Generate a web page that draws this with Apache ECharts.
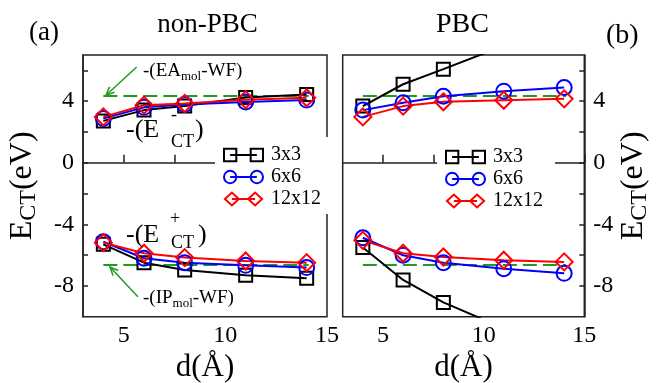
<!DOCTYPE html>
<html><head><meta charset="utf-8">
<script src="https://cdn.jsdelivr.net/npm/echarts@6/dist/echarts.min.js"></script>
<style>html,body{margin:0;padding:0;background:#fff}#c{width:658px;height:383px}</style>
</head><body><div id="c"></div>
<script>
// ---------- data ----------
const dVals = [4, 6, 8, 11, 14];
// non-PBC, -(E-_CT) branch
const npMinus3 = [2.72, 3.42, 3.68, 4.24, 4.43];
const npMinus6 = [2.88, 3.6, 3.78, 3.95, 4.07];
const npMinus12 = [2.98, 3.74, 3.85, 4.1, 4.22];
// non-PBC, -(E+_CT) branch
const npPlus3 = [-5.3, -6.49, -6.96, -7.3, -7.5];
const npPlus6 = [-5.13, -6.2, -6.49, -6.66, -6.81];
const npPlus12 = [-5.19, -5.88, -6.16, -6.38, -6.49];
// PBC
const pbcD3 = [4, 6, 8, 11];
const pbcMinus3 = [3.68, 5.1, 6.08, 7.6];
const pbcMinus6 = [3.42, 3.9, 4.32, 4.65, 4.89];
const pbcMinus12 = [2.98, 3.68, 3.96, 4.06, 4.15];
const pbcPlus3 = [-5.51, -7.61, -9.07, -10.75];
const pbcPlus6 = [-4.87, -6.01, -6.49, -6.88, -7.18];
const pbcPlus12 = [-5.04, -5.88, -6.12, -6.33, -6.44];
// reference levels (green dashed)
const refEA = 4.34;
const refIP = -6.64;
const refRange = [4, 14.1];
// annotation arrows (data coords, left panel): [from, to]
const arrowEA = [[5.64, 6.22], [4.13, 4.39]];
const arrowIP = [[5.7, -8.71], [4.33, -6.77]];
// ticks
const xLabelVals = [5, 10, 15];
const xTickVals = [5, 7.5, 10, 12.5, 15];
const yLabelVals = [-8, -4, 0, 4];
const yTickVals = [-8, -6, -4, -2, 0, 2, 4, 6];
const sizeNames = ['3x3', '6x6', '12x12'];

const FF = "'Liberation Serif', 'Times New Roman', Times, 'DejaVu Serif', serif";
const colors = {'3x3': '#000000', '6x6': '#0000ff', '12x12': '#ff0000'};
const symbols = {'3x3': 'rect', '6x6': 'circle', '12x12': 'diamond'};
const symSizes = {'3x3': 13, '6x6': 15, '12x12': 17};
const legendIcons = {
  '3x3': 'path://M1,1h12v12h-12z M7,7h26 M27,1h12v12h-12z',
  '6x6': 'path://M1,7a6,6 0 1,0 12,0a6,6 0 1,0 -12,0z M7,7h26 M27,7a6,6 0 1,0 12,0a6,6 0 1,0 -12,0z',
  '12x12': 'path://M0,7L7.5,0L15,7L7.5,14z M7.5,7h25 M25,7L32.5,0L40,7L32.5,14z'
};
const green = '#229922';

function zip(xs, ys) { return ys.map((y, i) => [xs[i], y]); }

function dataSeries(name, xs, ys, gi) {
  const c = colors[name];
  return {
    type: 'line', name: name, xAxisIndex: gi, yAxisIndex: gi,
    data: zip(xs, ys), symbol: symbols[name], symbolSize: symSizes[name],
    itemStyle: {color: 'transparent', borderColor: c, borderWidth: 2},
    lineStyle: {color: c, width: 2}, z: 3, clip: true,
    emphasis: {disabled: true}, animation: false
  };
}
function refSeries(val, gi) {
  return {
    type: 'line', xAxisIndex: gi, yAxisIndex: gi, data: [[refRange[0], val], [refRange[1], val]],
    symbol: 'none', lineStyle: {color: green, width: 2, type: [14, 6]}, z: 2,
    emphasis: {disabled: true}, silent: true, animation: false
  };
}

function xAxisCfg(gi) {
  return {
    type: 'value', gridIndex: gi, min: 3, max: 15,
    name: 'd(Å)', nameLocation: 'middle', nameGap: 33,
    nameTextStyle: {fontFamily: FF, fontSize: 31, color: '#000'},
    axisLine: {show: true, lineStyle: {color: '#222', width: 1.5}},
    axisTick: {show: true, inside: true, length: 8, customValues: xTickVals, lineStyle: {color: '#222', width: 1.5}},
    axisLabel: {customValues: xLabelVals, fontFamily: FF, fontSize: 24, color: '#000', margin: 7},
    splitLine: {show: false}
  };
}
const yName = '{a|E}{s|CT}{a|(eV)}';
const yRich = {
  a: {fontFamily: FF, fontSize: 32, lineHeight: 36, color: '#000'},
  s: {fontFamily: FF, fontSize: 24, lineHeight: 22, verticalAlign: 'bottom', color: '#000'}
};
function yAxisCfg(gi, pos, gap) {
  return {
    type: 'value', gridIndex: gi, min: -10, max: 7, position: pos,
    name: yName, nameLocation: 'middle', nameGap: gap,
    nameTextStyle: {fontFamily: FF, rich: yRich},
    axisLine: {show: true, lineStyle: {color: '#222', width: 1.5}},
    axisTick: {show: true, inside: true, length: 5, customValues: yTickVals, lineStyle: {color: '#222', width: 1.5}},
    axisLabel: {customValues: yLabelVals, fontFamily: FF, fontSize: 24, color: '#000', margin: 9},
    splitLine: {show: false}
  };
}

function legendCfg(left, top) {
  return {
    orient: 'vertical', left: left, top: top, padding: [8, 12, 5, 8],
    backgroundColor: '#fff', itemWidth: 39, itemHeight: 13, itemGap: 2,
    textStyle: {fontFamily: FF, fontSize: 20, color: '#000', padding: [0, 0, 0, 3]},
    selectedMode: false,
    data: sizeNames.map(n => ({
      name: n, icon: legendIcons[n],
      itemStyle: {color: 'transparent', borderColor: colors[n], borderWidth: 2}
    }))
  };
}

const chart = echarts.init(document.getElementById('c'), null, {renderer: 'canvas'});
const option = {
  animation: false,
  backgroundColor: '#fff',
  textStyle: {fontFamily: FF},
  grid: [
    {left: 83, top: 55, width: 244, bottom: 66.3, containLabel: false, outerBoundsMode: 'none', show: true, borderColor: '#222', borderWidth: 1.5, backgroundColor: 'transparent'},
    {left: 342.7, top: 55, width: 241.6, bottom: 66.3, containLabel: false, outerBoundsMode: 'none', show: true, borderColor: '#222', borderWidth: 1.5, backgroundColor: 'transparent'}
  ],
  xAxis: [xAxisCfg(0), xAxisCfg(1)],
  yAxis: [yAxisCfg(0, 'left', 42), yAxisCfg(1, 'right', 31)],
  legend: [legendCfg(215, 137), legendCfg(437, 139)],
  series: [
    refSeries(refEA, 0), refSeries(refIP, 0), refSeries(refEA, 1), refSeries(refIP, 1),
    dataSeries('3x3', dVals, npMinus3, 0), dataSeries('6x6', dVals, npMinus6, 0), dataSeries('12x12', dVals, npMinus12, 0),
    dataSeries('3x3', dVals, npPlus3, 0), dataSeries('6x6', dVals, npPlus6, 0), dataSeries('12x12', dVals, npPlus12, 0),
    dataSeries('3x3', pbcD3, pbcMinus3, 1), dataSeries('6x6', dVals, pbcMinus6, 1), dataSeries('12x12', dVals, pbcMinus12, 1),
    dataSeries('3x3', pbcD3, pbcPlus3, 1), dataSeries('6x6', dVals, pbcPlus6, 1), dataSeries('12x12', dVals, pbcPlus12, 1)
  ]
};
chart.setOption(option);

// ---------- annotations ----------
function txt(text, x, baseline, fs, align) {
  return {type: 'text', x: x, y: baseline - 0.305 * fs, z: 10,
    style: {text: text, fontFamily: FF, fontSize: fs, fill: '#000', align: align || 'left', verticalAlign: 'middle'}};
}
function arrow(a) {
  const p0 = chart.convertToPixel({gridIndex: 0}, a[0]);
  const p1 = chart.convertToPixel({gridIndex: 0}, a[1]);
  const ang = Math.atan2(p0[1] - p1[1], p0[0] - p1[0]);
  const L = 9, w = 0.42;
  const h1 = [p1[0] + L * Math.cos(ang + w), p1[1] + L * Math.sin(ang + w)];
  const h2 = [p1[0] + L * Math.cos(ang - w), p1[1] + L * Math.sin(ang - w)];
  const st = {stroke: green, lineWidth: 1.5, fill: null};
  return [
    {type: 'polyline', z: 10, shape: {points: [p0, p1]}, style: st},
    {type: 'polyline', z: 10, shape: {points: [h1, p1, h2]}, style: st}
  ];
}
const eaRich = {
  a: {fontFamily: FF, fontSize: 19, lineHeight: 24, fill: '#000'},
  s: {fontFamily: FF, fontSize: 13, lineHeight: 9, verticalAlign: 'bottom', fill: '#000'}
};
const g = [
  txt('(a)', 29, 41, 27),
  txt('non-PBC', 207.5, 33.3, 27, 'center'),
  txt('PBC', 462.5, 33.3, 28, 'center'),
  txt('(b)', 606, 44, 28),
  {type: 'text', x: 143, y: 77.3 - 17.8, z: 10, style: {text: '{a|-(EA}{s|mol}{a|-WF)}', fontFamily: FF, rich: eaRich, verticalAlign: 'top'}},
  {type: 'text', x: 143, y: 304 - 17.8, z: 10, style: {text: '{a|-(IP}{s|mol}{a|-WF)}', fontFamily: FF, rich: eaRich, verticalAlign: 'top'}},
  txt('-(E', 126, 137.7, 26), txt('-', 171, 121, 18), txt('CT', 171, 148, 18), txt(')', 195, 137.7, 26),
  txt('-(E', 126, 242.7, 26), txt('+', 170, 225, 18), txt('CT', 171, 248.3, 18), txt(')', 198, 242.7, 26)
].concat(arrow(arrowEA), arrow(arrowIP));
chart.setOption({graphic: g});
</script>
</body></html>
